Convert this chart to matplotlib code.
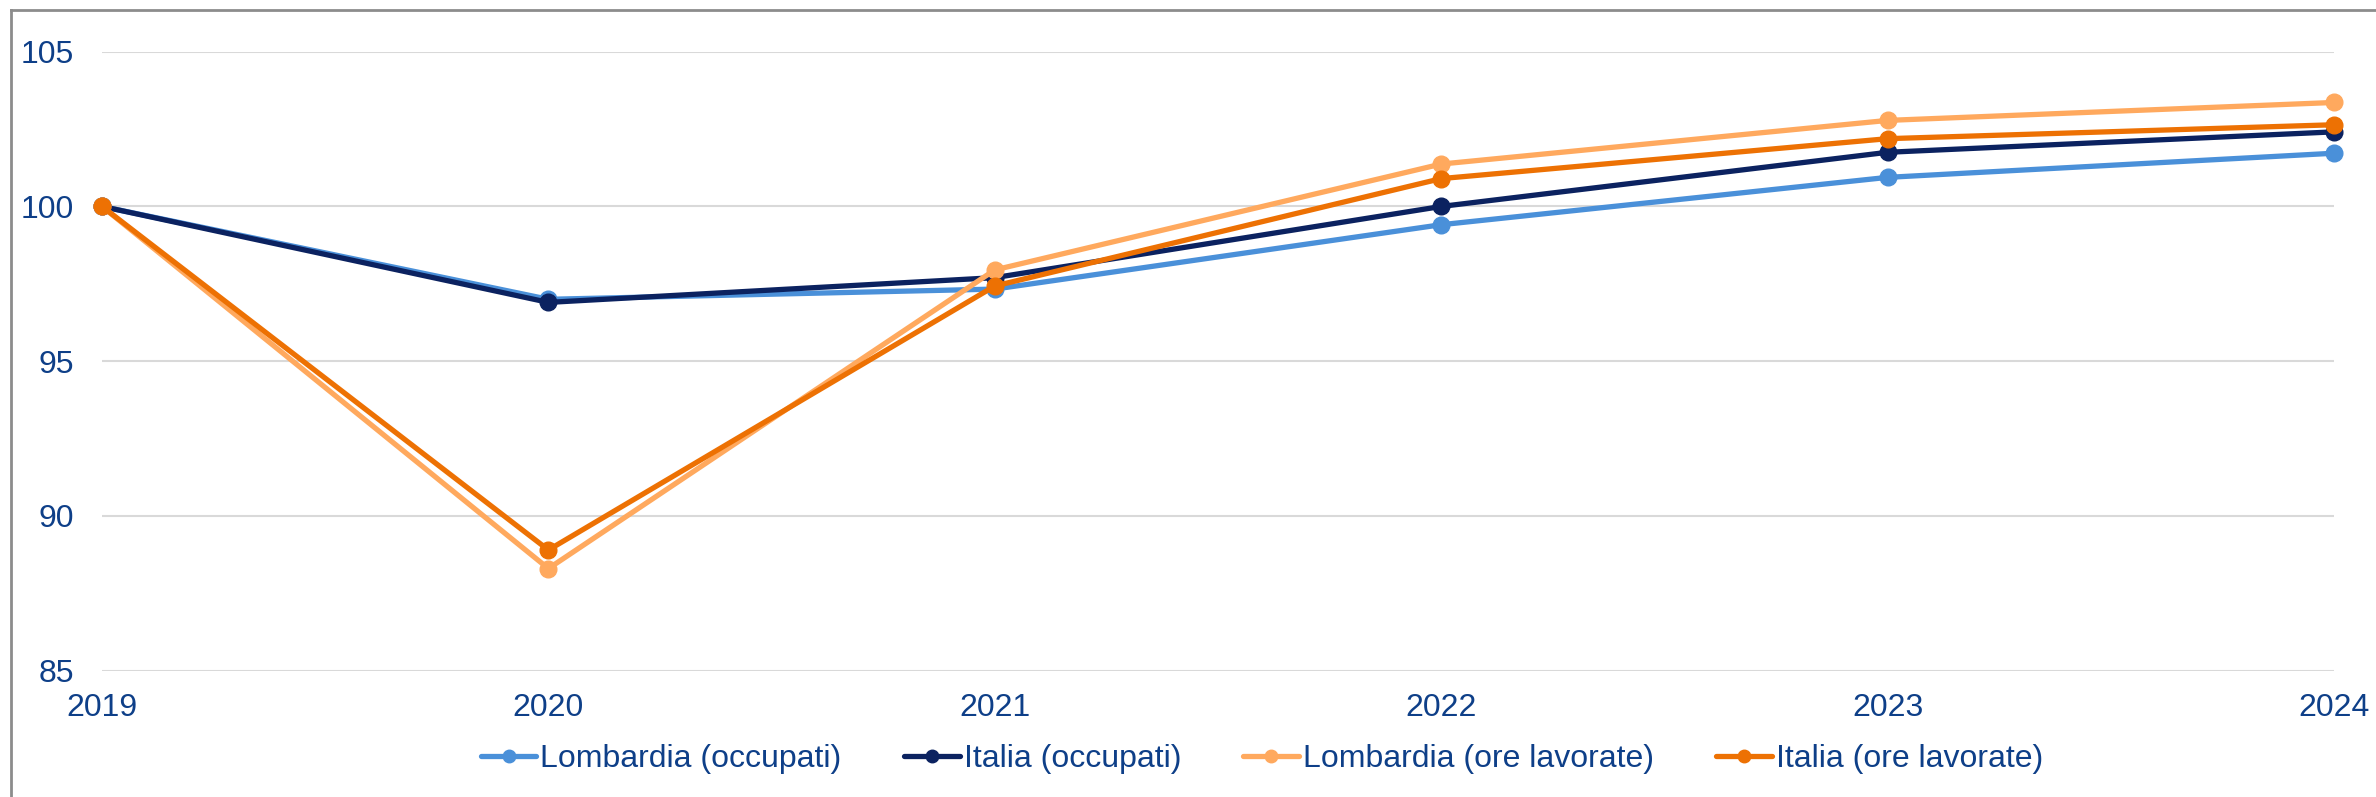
import matplotlib.pyplot as plt
from matplotlib.lines import Line2D

years = [2019, 2020, 2021, 2022, 2023, 2024]
lombardia_occupati = [100, 97.0, 97.33, 99.41, 100.94, 101.72]
italia_occupati = [100, 96.9, 97.7, 100.0, 101.75, 102.41]
lombardia_ore = [100, 88.3, 97.95, 101.37, 102.78, 103.36]
italia_ore = [100, 88.9, 97.43, 100.9, 102.19, 102.64]

labels = ["Lombardia (occupati)", "Italia (occupati)",
          "Lombardia (ore lavorate)", "Italia (ore lavorate)"]
colors = ["#4A90D9", "#0B2260", "#FFA95E", "#ED7103"]
text_color = "#0E3F88"

plt.rcParams['font.family'] = ['Liberation Sans', 'DejaVu Sans']

fig = plt.figure(figsize=(23.76, 7.97), dpi=100)
ax = fig.add_axes([102 / 2376, 126.3 / 797, 2232 / 2376, 619 / 797])

for vals, lab, c in zip([lombardia_occupati, italia_occupati, lombardia_ore, italia_ore],
                        labels, colors):
    ax.plot(years, vals, color=c, lw=3.8, marker='o', markersize=12,
            label=lab, clip_on=False, solid_capstyle='round')

ax.set_xlim(2019, 2024)
ax.set_ylim(85, 105)
ax.set_yticks([85, 90, 95, 100, 105])
ax.set_xticks(years)
ax.tick_params(length=0, labelsize=23, colors=text_color)
ax.tick_params(axis='y', pad=20)
ax.tick_params(axis='x', pad=16)
ax.grid(axis='y', color='#D9D9D9', lw=1.5)
ax.set_axisbelow(True)
for s in ax.spines.values():
    s.set_visible(False)

leg = ax.legend(loc='center', bbox_to_anchor=(1262 / 2376, 38 / 797),
                bbox_transform=fig.transFigure, ncol=4, frameon=False,
                fontsize=23, handlelength=1.75, handletextpad=0.12,
                columnspacing=1.95, markerscale=0.75)
for t in leg.get_texts():
    t.set_color(text_color)

# outer frame (top and left edges visible)
fig.add_artist(Line2D([11 / 2376, 1], [1 - 10 / 797, 1 - 10 / 797],
                      transform=fig.transFigure, color='#8C8C8C', lw=2))
fig.add_artist(Line2D([11 / 2376, 11 / 2376], [0, 1 - 10 / 797],
                      transform=fig.transFigure, color='#8C8C8C', lw=2))

fig.savefig('out.png', dpi=100)
